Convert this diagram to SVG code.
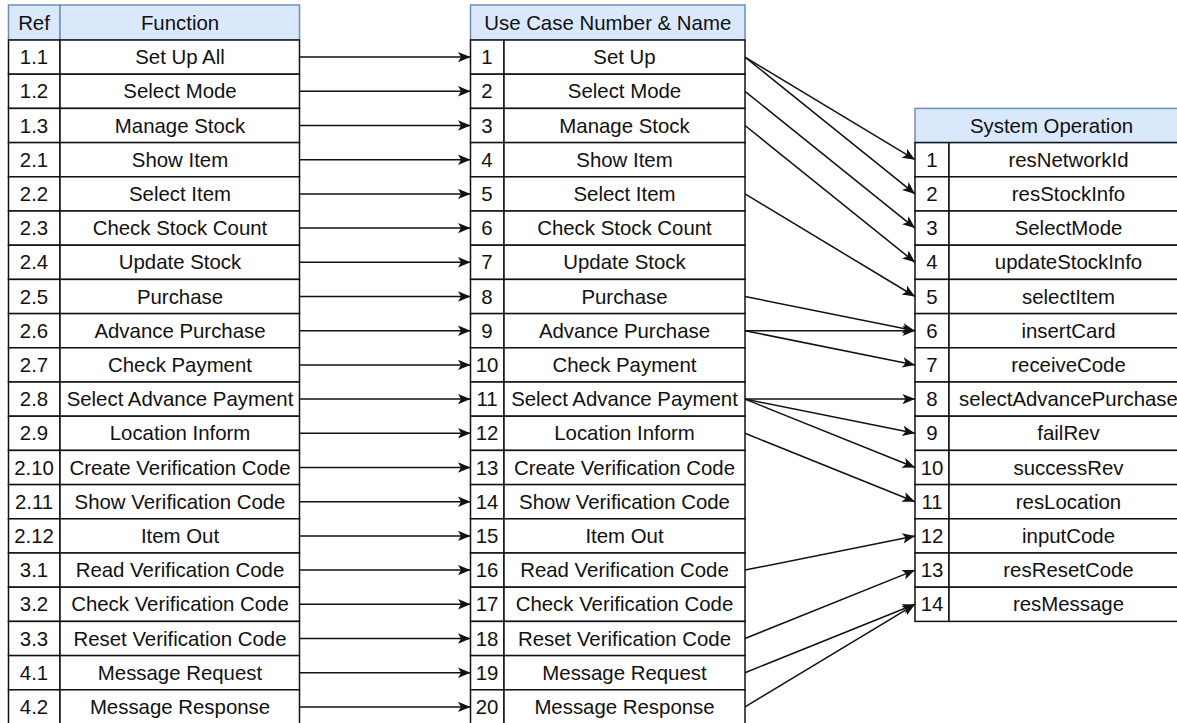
<svg xmlns="http://www.w3.org/2000/svg" width="1177" height="723" viewBox="0 0 1177 723">
<style>
text{font-family:"Liberation Sans",Arial,Helvetica,sans-serif;font-size:20.4px;fill:#111;text-anchor:middle}
.c{fill:#fff;stroke:#111;stroke-width:1.5}
.h{fill:#dae8fc;stroke:#6c8ebf;stroke-width:1.5}
.e{fill:none;stroke:#111;stroke-width:1.5;marker-end:url(#ar)}
</style>
<defs>
<marker id="ar" viewBox="-13 -6 14 12" refX="0" refY="0" markerWidth="14" markerHeight="12" markerUnits="userSpaceOnUse" orient="auto">
<path d="M-12.5,-5.2 L0,0 L-12.5,5.2 L-9.5,0 Z" fill="#111"/>
</marker>
</defs>
<rect width="1177" height="723" fill="#fff"/>

<g id="table-function">
<g id="fn-header"><rect class="h" x="8.5" y="5" width="51.5" height="35"/><rect class="h" x="60" y="5" width="239.5" height="35"/><text x="34" y="29.5">Ref</text><text x="180" y="29.5">Function</text></g>
<g id="fn-1"><rect class="c" x="8.5" y="40" width="51.5" height="34.2"/><rect class="c" x="60" y="40" width="239.5" height="34.2"/><text x="34" y="64.1">1.1</text><text x="180" y="64.1">Set Up All</text></g>
<g id="fn-2"><rect class="c" x="8.5" y="74.2" width="51.5" height="34.2"/><rect class="c" x="60" y="74.2" width="239.5" height="34.2"/><text x="34" y="98.3">1.2</text><text x="180" y="98.3">Select Mode</text></g>
<g id="fn-3"><rect class="c" x="8.5" y="108.4" width="51.5" height="34.2"/><rect class="c" x="60" y="108.4" width="239.5" height="34.2"/><text x="34" y="132.5">1.3</text><text x="180" y="132.5">Manage Stock</text></g>
<g id="fn-4"><rect class="c" x="8.5" y="142.6" width="51.5" height="34.2"/><rect class="c" x="60" y="142.6" width="239.5" height="34.2"/><text x="34" y="166.7">2.1</text><text x="180" y="166.7">Show Item</text></g>
<g id="fn-5"><rect class="c" x="8.5" y="176.8" width="51.5" height="34.2"/><rect class="c" x="60" y="176.8" width="239.5" height="34.2"/><text x="34" y="200.9">2.2</text><text x="180" y="200.9">Select Item</text></g>
<g id="fn-6"><rect class="c" x="8.5" y="211" width="51.5" height="34.2"/><rect class="c" x="60" y="211" width="239.5" height="34.2"/><text x="34" y="235.1">2.3</text><text x="180" y="235.1">Check Stock Count</text></g>
<g id="fn-7"><rect class="c" x="8.5" y="245.2" width="51.5" height="34.2"/><rect class="c" x="60" y="245.2" width="239.5" height="34.2"/><text x="34" y="269.3">2.4</text><text x="180" y="269.3">Update Stock</text></g>
<g id="fn-8"><rect class="c" x="8.5" y="279.4" width="51.5" height="34.2"/><rect class="c" x="60" y="279.4" width="239.5" height="34.2"/><text x="34" y="303.5">2.5</text><text x="180" y="303.5">Purchase</text></g>
<g id="fn-9"><rect class="c" x="8.5" y="313.6" width="51.5" height="34.2"/><rect class="c" x="60" y="313.6" width="239.5" height="34.2"/><text x="34" y="337.7">2.6</text><text x="180" y="337.7">Advance Purchase</text></g>
<g id="fn-10"><rect class="c" x="8.5" y="347.8" width="51.5" height="34.2"/><rect class="c" x="60" y="347.8" width="239.5" height="34.2"/><text x="34" y="371.9">2.7</text><text x="180" y="371.9">Check Payment</text></g>
<g id="fn-11"><rect class="c" x="8.5" y="382" width="51.5" height="34.2"/><rect class="c" x="60" y="382" width="239.5" height="34.2"/><text x="34" y="406.1">2.8</text><text x="180" y="406.1">Select Advance Payment</text></g>
<g id="fn-12"><rect class="c" x="8.5" y="416.2" width="51.5" height="34.2"/><rect class="c" x="60" y="416.2" width="239.5" height="34.2"/><text x="34" y="440.3">2.9</text><text x="180" y="440.3">Location Inform</text></g>
<g id="fn-13"><rect class="c" x="8.5" y="450.4" width="51.5" height="34.2"/><rect class="c" x="60" y="450.4" width="239.5" height="34.2"/><text x="34" y="474.5">2.10</text><text x="180" y="474.5">Create Verification Code</text></g>
<g id="fn-14"><rect class="c" x="8.5" y="484.6" width="51.5" height="34.2"/><rect class="c" x="60" y="484.6" width="239.5" height="34.2"/><text x="34" y="508.7">2.11</text><text x="180" y="508.7">Show Verification Code</text></g>
<g id="fn-15"><rect class="c" x="8.5" y="518.8" width="51.5" height="34.2"/><rect class="c" x="60" y="518.8" width="239.5" height="34.2"/><text x="34" y="542.9">2.12</text><text x="180" y="542.9">Item Out</text></g>
<g id="fn-16"><rect class="c" x="8.5" y="553" width="51.5" height="34.2"/><rect class="c" x="60" y="553" width="239.5" height="34.2"/><text x="34" y="577.1">3.1</text><text x="180" y="577.1">Read Verification Code</text></g>
<g id="fn-17"><rect class="c" x="8.5" y="587.2" width="51.5" height="34.2"/><rect class="c" x="60" y="587.2" width="239.5" height="34.2"/><text x="34" y="611.3">3.2</text><text x="180" y="611.3">Check Verification Code</text></g>
<g id="fn-18"><rect class="c" x="8.5" y="621.4" width="51.5" height="34.2"/><rect class="c" x="60" y="621.4" width="239.5" height="34.2"/><text x="34" y="645.5">3.3</text><text x="180" y="645.5">Reset Verification Code</text></g>
<g id="fn-19"><rect class="c" x="8.5" y="655.6" width="51.5" height="34.2"/><rect class="c" x="60" y="655.6" width="239.5" height="34.2"/><text x="34" y="679.7">4.1</text><text x="180" y="679.7">Message Request</text></g>
<g id="fn-20"><rect class="c" x="8.5" y="689.8" width="51.5" height="34.2"/><rect class="c" x="60" y="689.8" width="239.5" height="34.2"/><text x="34" y="713.9">4.2</text><text x="180" y="713.9">Message Response</text></g>
</g>

<g id="table-usecase">
<g id="uc-header"><rect class="h" x="470.5" y="5" width="274.5" height="35"/><text x="607.75" y="29.5">Use Case Number &amp; Name</text></g>
<g id="uc-1"><rect class="c" x="470.5" y="40" width="33.5" height="34.2"/><rect class="c" x="504" y="40" width="241" height="34.2"/><text x="487" y="64.1">1</text><text x="624.5" y="64.1">Set Up</text></g>
<g id="uc-2"><rect class="c" x="470.5" y="74.2" width="33.5" height="34.2"/><rect class="c" x="504" y="74.2" width="241" height="34.2"/><text x="487" y="98.3">2</text><text x="624.5" y="98.3">Select Mode</text></g>
<g id="uc-3"><rect class="c" x="470.5" y="108.4" width="33.5" height="34.2"/><rect class="c" x="504" y="108.4" width="241" height="34.2"/><text x="487" y="132.5">3</text><text x="624.5" y="132.5">Manage Stock</text></g>
<g id="uc-4"><rect class="c" x="470.5" y="142.6" width="33.5" height="34.2"/><rect class="c" x="504" y="142.6" width="241" height="34.2"/><text x="487" y="166.7">4</text><text x="624.5" y="166.7">Show Item</text></g>
<g id="uc-5"><rect class="c" x="470.5" y="176.8" width="33.5" height="34.2"/><rect class="c" x="504" y="176.8" width="241" height="34.2"/><text x="487" y="200.9">5</text><text x="624.5" y="200.9">Select Item</text></g>
<g id="uc-6"><rect class="c" x="470.5" y="211" width="33.5" height="34.2"/><rect class="c" x="504" y="211" width="241" height="34.2"/><text x="487" y="235.1">6</text><text x="624.5" y="235.1">Check Stock Count</text></g>
<g id="uc-7"><rect class="c" x="470.5" y="245.2" width="33.5" height="34.2"/><rect class="c" x="504" y="245.2" width="241" height="34.2"/><text x="487" y="269.3">7</text><text x="624.5" y="269.3">Update Stock</text></g>
<g id="uc-8"><rect class="c" x="470.5" y="279.4" width="33.5" height="34.2"/><rect class="c" x="504" y="279.4" width="241" height="34.2"/><text x="487" y="303.5">8</text><text x="624.5" y="303.5">Purchase</text></g>
<g id="uc-9"><rect class="c" x="470.5" y="313.6" width="33.5" height="34.2"/><rect class="c" x="504" y="313.6" width="241" height="34.2"/><text x="487" y="337.7">9</text><text x="624.5" y="337.7">Advance Purchase</text></g>
<g id="uc-10"><rect class="c" x="470.5" y="347.8" width="33.5" height="34.2"/><rect class="c" x="504" y="347.8" width="241" height="34.2"/><text x="487" y="371.9">10</text><text x="624.5" y="371.9">Check Payment</text></g>
<g id="uc-11"><rect class="c" x="470.5" y="382" width="33.5" height="34.2"/><rect class="c" x="504" y="382" width="241" height="34.2"/><text x="487" y="406.1">11</text><text x="624.5" y="406.1">Select Advance Payment</text></g>
<g id="uc-12"><rect class="c" x="470.5" y="416.2" width="33.5" height="34.2"/><rect class="c" x="504" y="416.2" width="241" height="34.2"/><text x="487" y="440.3">12</text><text x="624.5" y="440.3">Location Inform</text></g>
<g id="uc-13"><rect class="c" x="470.5" y="450.4" width="33.5" height="34.2"/><rect class="c" x="504" y="450.4" width="241" height="34.2"/><text x="487" y="474.5">13</text><text x="624.5" y="474.5">Create Verification Code</text></g>
<g id="uc-14"><rect class="c" x="470.5" y="484.6" width="33.5" height="34.2"/><rect class="c" x="504" y="484.6" width="241" height="34.2"/><text x="487" y="508.7">14</text><text x="624.5" y="508.7">Show Verification Code</text></g>
<g id="uc-15"><rect class="c" x="470.5" y="518.8" width="33.5" height="34.2"/><rect class="c" x="504" y="518.8" width="241" height="34.2"/><text x="487" y="542.9">15</text><text x="624.5" y="542.9">Item Out</text></g>
<g id="uc-16"><rect class="c" x="470.5" y="553" width="33.5" height="34.2"/><rect class="c" x="504" y="553" width="241" height="34.2"/><text x="487" y="577.1">16</text><text x="624.5" y="577.1">Read Verification Code</text></g>
<g id="uc-17"><rect class="c" x="470.5" y="587.2" width="33.5" height="34.2"/><rect class="c" x="504" y="587.2" width="241" height="34.2"/><text x="487" y="611.3">17</text><text x="624.5" y="611.3">Check Verification Code</text></g>
<g id="uc-18"><rect class="c" x="470.5" y="621.4" width="33.5" height="34.2"/><rect class="c" x="504" y="621.4" width="241" height="34.2"/><text x="487" y="645.5">18</text><text x="624.5" y="645.5">Reset Verification Code</text></g>
<g id="uc-19"><rect class="c" x="470.5" y="655.6" width="33.5" height="34.2"/><rect class="c" x="504" y="655.6" width="241" height="34.2"/><text x="487" y="679.7">19</text><text x="624.5" y="679.7">Message Request</text></g>
<g id="uc-20"><rect class="c" x="470.5" y="689.8" width="33.5" height="34.2"/><rect class="c" x="504" y="689.8" width="241" height="34.2"/><text x="487" y="713.9">20</text><text x="624.5" y="713.9">Message Response</text></g>
</g>

<g id="table-sysop">
<g id="so-header"><rect class="h" x="915" y="108.4" width="273" height="34.2"/><text x="1051.5" y="132.5">System Operation</text></g>
<g id="so-1"><rect class="c" x="915" y="142.6" width="34" height="34.2"/><rect class="c" x="949" y="142.6" width="239" height="34.2"/><text x="932" y="166.7">1</text><text x="1068.5" y="166.7">resNetworkId</text></g>
<g id="so-2"><rect class="c" x="915" y="176.8" width="34" height="34.2"/><rect class="c" x="949" y="176.8" width="239" height="34.2"/><text x="932" y="200.9">2</text><text x="1068.5" y="200.9">resStockInfo</text></g>
<g id="so-3"><rect class="c" x="915" y="211" width="34" height="34.2"/><rect class="c" x="949" y="211" width="239" height="34.2"/><text x="932" y="235.1">3</text><text x="1068.5" y="235.1">SelectMode</text></g>
<g id="so-4"><rect class="c" x="915" y="245.2" width="34" height="34.2"/><rect class="c" x="949" y="245.2" width="239" height="34.2"/><text x="932" y="269.3">4</text><text x="1068.5" y="269.3">updateStockInfo</text></g>
<g id="so-5"><rect class="c" x="915" y="279.4" width="34" height="34.2"/><rect class="c" x="949" y="279.4" width="239" height="34.2"/><text x="932" y="303.5">5</text><text x="1068.5" y="303.5">selectItem</text></g>
<g id="so-6"><rect class="c" x="915" y="313.6" width="34" height="34.2"/><rect class="c" x="949" y="313.6" width="239" height="34.2"/><text x="932" y="337.7">6</text><text x="1068.5" y="337.7">insertCard</text></g>
<g id="so-7"><rect class="c" x="915" y="347.8" width="34" height="34.2"/><rect class="c" x="949" y="347.8" width="239" height="34.2"/><text x="932" y="371.9">7</text><text x="1068.5" y="371.9">receiveCode</text></g>
<g id="so-8"><rect class="c" x="915" y="382" width="34" height="34.2"/><rect class="c" x="949" y="382" width="239" height="34.2"/><text x="932" y="406.1">8</text><text x="1068.5" y="406.1">selectAdvancePurchase</text></g>
<g id="so-9"><rect class="c" x="915" y="416.2" width="34" height="34.2"/><rect class="c" x="949" y="416.2" width="239" height="34.2"/><text x="932" y="440.3">9</text><text x="1068.5" y="440.3">failRev</text></g>
<g id="so-10"><rect class="c" x="915" y="450.4" width="34" height="34.2"/><rect class="c" x="949" y="450.4" width="239" height="34.2"/><text x="932" y="474.5">10</text><text x="1068.5" y="474.5">successRev</text></g>
<g id="so-11"><rect class="c" x="915" y="484.6" width="34" height="34.2"/><rect class="c" x="949" y="484.6" width="239" height="34.2"/><text x="932" y="508.7">11</text><text x="1068.5" y="508.7">resLocation</text></g>
<g id="so-12"><rect class="c" x="915" y="518.8" width="34" height="34.2"/><rect class="c" x="949" y="518.8" width="239" height="34.2"/><text x="932" y="542.9">12</text><text x="1068.5" y="542.9">inputCode</text></g>
<g id="so-13"><rect class="c" x="915" y="553" width="34" height="34.2"/><rect class="c" x="949" y="553" width="239" height="34.2"/><text x="932" y="577.1">13</text><text x="1068.5" y="577.1">resResetCode</text></g>
<g id="so-14"><rect class="c" x="915" y="587.2" width="34" height="34.2"/><rect class="c" x="949" y="587.2" width="239" height="34.2"/><text x="932" y="611.3">14</text><text x="1068.5" y="611.3">resMessage</text></g>
</g>

<g id="connectors">
<path class="e" d="M299.5,57.1H470.5"/>
<path class="e" d="M299.5,91.3H470.5"/>
<path class="e" d="M299.5,125.5H470.5"/>
<path class="e" d="M299.5,159.7H470.5"/>
<path class="e" d="M299.5,193.9H470.5"/>
<path class="e" d="M299.5,228.1H470.5"/>
<path class="e" d="M299.5,262.3H470.5"/>
<path class="e" d="M299.5,296.5H470.5"/>
<path class="e" d="M299.5,330.7H470.5"/>
<path class="e" d="M299.5,364.9H470.5"/>
<path class="e" d="M299.5,399.1H470.5"/>
<path class="e" d="M299.5,433.3H470.5"/>
<path class="e" d="M299.5,467.5H470.5"/>
<path class="e" d="M299.5,501.7H470.5"/>
<path class="e" d="M299.5,535.9H470.5"/>
<path class="e" d="M299.5,570.1H470.5"/>
<path class="e" d="M299.5,604.3H470.5"/>
<path class="e" d="M299.5,638.5H470.5"/>
<path class="e" d="M299.5,672.7H470.5"/>
<path class="e" d="M299.5,706.9H470.5"/>
<path class="e" d="M745,57.1L915,159.7"/>
<path class="e" d="M745,57.1L915,193.9"/>
<path class="e" d="M745,91.3L915,228.1"/>
<path class="e" d="M745,125.5L915,262.3"/>
<path class="e" d="M745,193.9L915,296.5"/>
<path class="e" d="M745,296.5L915,330.7"/>
<path class="e" d="M745,330.7L915,330.7"/>
<path class="e" d="M745,330.7L915,364.9"/>
<path class="e" d="M745,399.1L915,399.1"/>
<path class="e" d="M745,399.1L915,433.3"/>
<path class="e" d="M745,399.1L915,467.5"/>
<path class="e" d="M745,433.3L915,501.7"/>
<path class="e" d="M745,570.1L915,535.9"/>
<path class="e" d="M745,638.5L915,570.1"/>
<path class="e" d="M745,672.7L915,604.3"/>
<path class="e" d="M745,706.9L915,604.3"/>
</g>
</svg>
